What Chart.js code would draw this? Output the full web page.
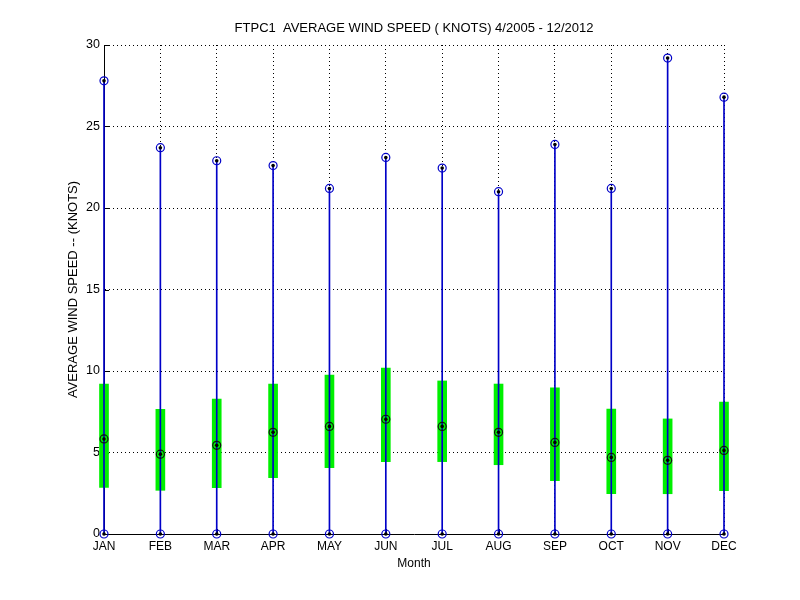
<!DOCTYPE html>
<html>
<head>
<meta charset="utf-8">
<script src="https://cdn.jsdelivr.net/npm/chart.js@4/dist/chart.umd.min.js"></script>
<style>
  html, body { margin: 0; padding: 0; background: #fff; }
  #wrap { width: 800px; height: 600px; }
</style>
</head>
<body>
<div id="wrap"><canvas id="c" width="800" height="600"></canvas></div>
<script>
const months = ['JAN','FEB','MAR','APR','MAY','JUN','JUL','AUG','SEP','OCT','NOV','DEC'];
const maxSpeed = [27.8, 23.7, 22.9, 22.6, 21.2, 23.1, 22.45, 21.0, 23.9, 21.2, 29.2, 26.8];
const minSpeed = [0, 0, 0, 0, 0, 0, 0, 0, 0, 0, 0, 0];
const q1Speed  = [2.86, 2.68, 2.84, 3.45, 4.07, 4.44, 4.44, 4.25, 3.27, 2.47, 2.47, 2.66];
const q3Speed  = [9.2, 7.65, 8.28, 9.2, 9.75, 10.18, 9.39, 9.2, 8.96, 7.67, 7.06, 8.1];
const medSpeed = [5.83, 4.9, 5.44, 6.24, 6.6, 7.04, 6.6, 6.24, 5.62, 4.7, 4.52, 5.13];
const yTicks = [0, 5, 10, 15, 20, 25, 30];

const FONT = "'Liberation Sans', Arial, sans-serif";
const BLUE = '#0000c8';
const GREEN = '#00f000';

const innerTicks = {
  id: 'innerTicks',
  beforeDatasetsDraw(chart) {
    const {ctx, chartArea: a, scales: {x, y}} = chart;
    ctx.save();
    ctx.strokeStyle = '#000';
    ctx.lineWidth = 1;
    ctx.beginPath();
    yTicks.forEach(v => {
      const py = Math.round(y.getPixelForValue(v)) + 0.5;
      ctx.moveTo(a.left, py);
      ctx.lineTo(a.left + 5, py);
    });
    months.forEach((m, i) => {
      const px = Math.round(x.getPixelForValue(i)) + 0.5;
      ctx.moveTo(px, a.bottom);
      ctx.lineTo(px, a.bottom - 5);
    });
    ctx.stroke();
    ctx.restore();
  }
};

const markerBase = {
  type: 'line',
  showLine: false,
  clip: false,
  pointStyle: 'circle',
  pointHoverRadius: 0
};

new Chart(document.getElementById('c'), {
  type: 'bar',
  data: {
    labels: months,
    datasets: [
      {
        label: 'box',
        data: q1Speed.map((v, i) => [v, q3Speed[i]]),
        backgroundColor: GREEN,
        borderWidth: 0,
        barThickness: 9,
        grouped: false,
        clip: false,
        order: 5
      },
      {
        label: 'whisker',
        data: minSpeed.map((v, i) => [v, maxSpeed[i]]),
        backgroundColor: BLUE,
        borderWidth: 0,
        barThickness: 1,
        grouped: false,
        clip: false,
        order: 4
      },
      Object.assign({}, markerBase, {
        label: 'max', data: maxSpeed, pointRadius: 4, pointBorderWidth: 1.2,
        pointBorderColor: BLUE, pointBackgroundColor: 'rgba(0,0,0,0)', order: 3
      }),
      Object.assign({}, markerBase, {
        label: 'min', data: minSpeed, pointRadius: 4, pointBorderWidth: 1.2,
        pointBorderColor: BLUE, pointBackgroundColor: 'rgba(0,0,0,0)', order: 3
      }),
      Object.assign({}, markerBase, {
        label: 'median', data: medSpeed, pointRadius: 4, pointBorderWidth: 1.2,
        pointBorderColor: '#111', pointBackgroundColor: 'rgba(0,0,0,0)', order: 3
      }),
      Object.assign({}, markerBase, {
        label: 'maxDot', data: maxSpeed, pointRadius: 1.8, pointBorderWidth: 0,
        pointBackgroundColor: '#000', order: 1
      }),
      Object.assign({}, markerBase, {
        label: 'minDot', data: minSpeed, pointRadius: 1.8, pointBorderWidth: 0,
        pointBackgroundColor: '#000', order: 1
      }),
      Object.assign({}, markerBase, {
        label: 'medDot', data: medSpeed, pointRadius: 1.8, pointBorderWidth: 0,
        pointBackgroundColor: '#000', order: 1
      })
    ]
  },
  options: {
    responsive: false,
    animation: false,
    events: [],
    layout: { padding: { left: 0, right: 76, top: 0, bottom: 0 } },
    plugins: {
      legend: { display: false },
      tooltip: { enabled: false },
      title: {
        display: true,
        fullSize: false,
        text: 'FTPC1  AVERAGE WIND SPEED ( KNOTS) 4/2005 - 12/2012',
        color: '#000',
        font: { family: FONT, size: 13, weight: 'normal' },
        padding: { top: 21, bottom: 8.4 },
        align: 'center'
      }
    },
    scales: {
      x: {
        type: 'category',
        offset: false,
        grid: { display: true, offset: false, color: '#000', lineWidth: 1, drawTicks: false },
        border: { display: true, color: '#000', width: 1, dash: [1, 3] },
        ticks: { color: '#000', font: { family: FONT, size: 12 }, padding: 5, maxRotation: 0, autoSkip: false },
        title: {
          display: true, text: 'Month', color: '#000',
          font: { family: FONT, size: 12 },
          padding: { top: 0, bottom: 29 }
        },
        afterFit(scale) { scale.height = 66; }
      },
      y: {
        type: 'linear',
        min: 0, max: 30,
        grid: { display: true, color: '#000', lineWidth: 1, drawTicks: false },
        border: { display: true, color: '#000', width: 1, dash: [1, 3] },
        ticks: { stepSize: 5, color: '#000', font: { family: FONT, size: 12.5 }, padding: 4 },
        title: {
          display: true, text: 'AVERAGE WIND SPEED -- (KNOTS)', color: '#000',
          font: { family: FONT, size: 13 },
          padding: { top: 66, bottom: 0 }
        },
        afterFit(scale) { scale.width = 104; }
      }
    }
  },
  plugins: [innerTicks]
});
</script>
</body>
</html>
